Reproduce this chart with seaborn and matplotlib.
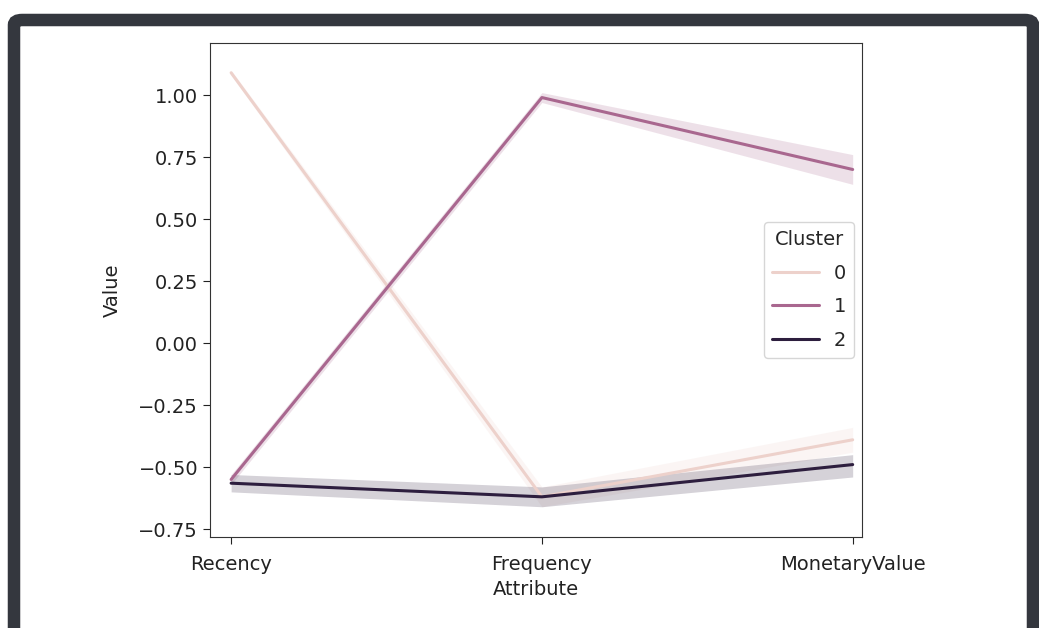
import matplotlib
matplotlib.use("Agg")
import matplotlib.pyplot as plt
from matplotlib.patches import FancyBboxPatch
import numpy as np
import pandas as pd
import seaborn as sns

# Cluster profile: mean standardised value per attribute, with 95% CI bounds
attributes = ["Recency", "Frequency", "MonetaryValue"]
clusters = [0, 1, 2]
mean_c0 = [1.09, -0.62, -0.39]
mean_c1 = [-0.55, 0.99, 0.70]
mean_c2 = [-0.565, -0.62, -0.49]
lower_c0 = [1.08, -0.66, -0.44]
upper_c0 = [1.10, -0.58, -0.34]
lower_c1 = [-0.57, 0.97, 0.64]
upper_c1 = [-0.53, 1.01, 0.76]
lower_c2 = [-0.60, -0.66, -0.54]
upper_c2 = [-0.53, -0.58, -0.45]

means = [mean_c0, mean_c1, mean_c2]
lowers = [lower_c0, lower_c1, lower_c2]
uppers = [upper_c0, upper_c1, upper_c2]

rows = []
for c, m, lo, hi in zip(clusters, means, lowers, uppers):
    for a, v, l, h in zip(attributes, m, lo, hi):
        rows.append({"Cluster": c, "Attribute": a, "Value": v, "lo": l, "hi": h})
df = pd.DataFrame(rows)

sns.set_style("ticks")
plt.rcParams["font.family"] = ["DejaVu Sans"]

fig = plt.figure(figsize=(10.39, 6.28), dpi=100)
ax = fig.add_axes([210 / 1039, 1 - 537 / 628, (862 - 210) / 1039, (537 - 43) / 628])

sns.lineplot(data=df, x="Attribute", y="Value", hue="Cluster", errorbar=None,
             ax=ax, linewidth=2.2)

# Confidence bands in each line's own colour
palette = sns.cubehelix_palette(as_cmap=True)
norm = matplotlib.colors.Normalize(vmin=min(clusters), vmax=max(clusters))
xpos = np.arange(len(attributes))
for c in clusters:
    sub = df[df["Cluster"] == c]
    ax.fill_between(xpos, sub["lo"], sub["hi"], color=palette(norm(c)),
                    alpha=0.2, linewidth=0)

ax.set_xlim(-0.068, 2.03)
ax.set_ylim(-0.782, 1.21)
ax.set_yticks([-0.75, -0.5, -0.25, 0.0, 0.25, 0.5, 0.75, 1.0])
ax.set_yticklabels(["\u22120.75", "\u22120.50", "\u22120.25", "0.00", "0.25",
                    "0.50", "0.75", "1.00"])
ax.tick_params(labelsize=14, colors="#222222", length=5)
ax.tick_params(axis="x", pad=8)
ax.set_xlabel("Attribute", fontsize=14, color="#222222", labelpad=4)
ax.set_ylabel("Value", fontsize=14, color="#222222", labelpad=12)
for s in ax.spines.values():
    s.set_color("#333333")

leg = ax.legend(title="Cluster", loc="center right", fontsize=14,
                title_fontsize=14, handlelength=2.4, labelspacing=0.75,
                borderaxespad=0.4)

# Dark rounded frame around the chart
frame = FancyBboxPatch((14 / 1039, -0.2), (1033 - 14) / 1039, (628 - 20) / 628 + 0.2,
                       boxstyle="round,pad=0,rounding_size=0.008",
                       transform=fig.transFigure, fill=False,
                       edgecolor="#34373e", linewidth=9, zorder=10)
fig.patches.append(frame)

fig.savefig("out.png", dpi=100)
